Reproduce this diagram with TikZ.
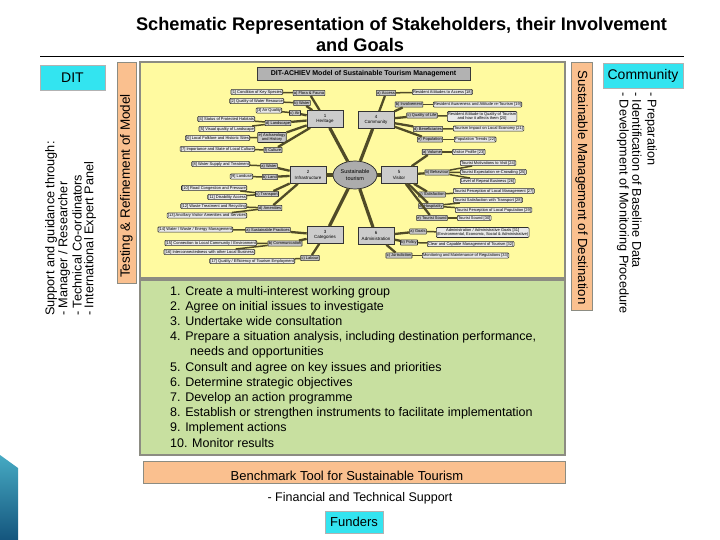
\documentclass[tikz,border=0pt]{standalone}
\usepackage{fontspec}
\setmainfont{Liberation Sans}
\usetikzlibrary{shapes.geometric}
\definecolor{cyanbox}{RGB}{51,228,240}
\definecolor{peach}{RGB}{250,192,143}
\definecolor{paneyellow}{RGB}{255,250,160}
\definecolor{panegreen}{RGB}{200,224,160}
\definecolor{linkc}{RGB}{80,75,40}
\definecolor{framec}{RGB}{140,140,130}
\begin{document}
\begin{tikzpicture}[x=1pt,y=-1pt,
  leaf/.style={draw=gray!35!black, fill=gray!18, rounded corners=1pt, line width=0.6pt, inner sep=0.8pt, font=\fontsize{4}{4.6}\selectfont, align=center},
  sub/.style={draw=gray!35!black, fill=gray!45, rounded corners=0.5pt, line width=0.6pt, inner sep=0.8pt, font=\fontsize{4}{4.6}\selectfont, align=center},
  mainbox/.style={draw=gray!40!black, fill=gray!40, line width=0.7pt, minimum width=36pt, minimum height=17pt, inner sep=1pt, font=\fontsize{4.5}{5.5}\selectfont, align=center},
  hub/.style={ellipse, draw=gray!30!black, fill=gray!65, line width=0.7pt, minimum width=44pt, minimum height=28pt, inner sep=0pt, font=\fontsize{5.5}{6.5}\selectfont, align=center},
  mlink/.style={draw=linkc, line width=3.2pt},
  slink/.style={draw=linkc, line width=2.3pt},
  llink/.style={draw=linkc, line width=1.5pt},
  cyanlabel/.style={draw=gray!60, fill=cyanbox, line width=0.8pt, inner sep=0pt, font=\fontsize{14}{16}\selectfont},
  sidetext/.style={font=\fontsize{12.7}{14}\selectfont, inner sep=0pt},
  steptext/.style={font=\fontsize{12.5}{14}\selectfont, inner sep=0pt, anchor=base west}
]
\useasboundingbox (0,0) rectangle (720,540);
\fill[white] (0,0) rectangle (720,540);

% title
\node[font=\bfseries\fontsize{18.2}{20}\selectfont, anchor=base, inner sep=0pt] (t1) at (401.5,31) {Schematic Representation of Stakeholders, their Involvement};
\node[font=\bfseries\fontsize{18.2}{20}\selectfont, anchor=base, inner sep=0pt] (t2) at (360,52) {and Goals};
\draw[line width=1pt] (40,57) -- (684,57);

% decorative corner
\shade[top color={rgb,255:red,70;green,170;blue,195}, bottom color={rgb,255:red,20;green,85;blue,125}] (0,455) -- (18,468) -- (18,540) -- (0,540) -- cycle;

% DIT
\node[cyanlabel, minimum width=65pt, minimum height=25pt] (dit) at (72.5,77.5) {DIT};
\node[sidetext, rotate=90, anchor=west] (s1) at (51,316) {Support and guidance through:};
\node[sidetext, rotate=90, anchor=west] (s2) at (64,316) {- Manager / Researcher};
\node[sidetext, rotate=90, anchor=west] (s3) at (77,316) {- Technical Co-ordinators};
\node[sidetext, rotate=90, anchor=west] (s4) at (90,316) {- International Expert Panel};

% orange side boxes
\node[draw=framec, fill=peach, line width=0.8pt, minimum width=19pt, minimum height=221pt, inner sep=0pt] (testbox) at (126.5,172.5) {};
\node[sidetext, font=\fontsize{13.5}{15}\selectfont, rotate=90] (testtext) at (126.5,186) {Testing \& Refinement of Model};
\node[draw=framec, fill=peach, line width=0.8pt, minimum width=21pt, minimum height=248pt, inner sep=0pt] (susbox) at (581.5,186) {};
\node[sidetext, font=\fontsize{13.2}{15}\selectfont, rotate=-90] (sustext) at (581.5,187.5) {Sustainable Management of Destination};

% Community
\node[cyanlabel, minimum width=80pt, minimum height=25pt] (comm) at (643,75.5) {Community};
\node[sidetext, rotate=-90, anchor=west] (r1) at (651,92) {- Preparation};
\node[sidetext, rotate=-90, anchor=west] (r2) at (637,92) {- Identification of Baseline Data};
\node[sidetext, rotate=-90, anchor=west] (r3) at (623,92) {- Development of Monitoring Procedure};

% yellow panel
\node[draw=framec, fill=paneyellow, line width=1.2pt, minimum width=425pt, minimum height=216pt, inner sep=0pt] (panel) at (352.5,170) {};
\node[draw=gray!45!black, fill=gray!60, line width=0.6pt, minimum width=213pt, minimum height=13pt, inner sep=0pt, font=\bfseries\fontsize{7}{8}\selectfont] (ptitle) at (363.5,73.5) {DIT-ACHIEV Model of Sustainable Tourism Management};

% hub and main boxes
\node[hub] (hubn) at (355,175) {Sustainable\\tourism};
\node[mainbox] (her) at (325,119) {1\\Heritage};
\node[mainbox] (com) at (376,120) {4\\Community};
\node[mainbox] (inf) at (308,175) {2\\Infrastructure};
\node[mainbox] (vis) at (399,175) {5\\Visitor};
\node[mainbox] (cat) at (325,235) {3\\Categories};
\node[mainbox] (adm) at (376,236) {6\\Administration};

% Heritage
\node[sub] (ha) at (309,93) {a) Flora \& Fauna};
\node[sub] (hb) at (302,103) {b) Water};
\node[sub] (hc) at (295,113) {c) Air};
\node[sub] (hd) at (278,123) {d) Landscape};
\node[sub] (he) at (272,137.5) {e) Archaeology\\and History};
\node[sub] (hf) at (273,150) {f) Culture};
\node[leaf, anchor=east] (l1) at (283,92) {[1] Condition of Key Species};
\node[leaf, anchor=east] (l2) at (284,101) {[2] Quality of Water Resource};
\node[leaf, anchor=east] (l3) at (282,110.5) {[3] Air Quality};
\node[leaf, anchor=east] (l4) at (255,119) {[4] Status of Protected Habitats};
\node[leaf, anchor=east] (l5) at (255,129) {[5] Visual quality of Landscape};
\node[leaf, anchor=east] (l6) at (250,138) {[6] Local Folklore and Historic Sites};
\node[leaf, anchor=east] (l7) at (255,149) {[7] Importance and State of Local Culture};

% Infrastructure
\node[sub] (ia) at (269,166) {a) Water};
\node[sub] (ib) at (270,177) {b) Land};
\node[sub] (ic) at (267,194) {c) Transport};
\node[sub] (id) at (270,208) {d) Amenities};
\node[leaf, anchor=east] (l8) at (250,164) {[8] Water Supply and Treatment};
\node[leaf, anchor=east] (l9) at (253,176.5) {[9] Landuse};
\node[leaf, anchor=east] (l10) at (247,188) {[10] Road Congestion and Pressure};
\node[leaf, anchor=east] (l11) at (247,197) {[11] Disability Access};
\node[leaf, anchor=east] (l12) at (247,206) {[12] Waste Treatment and Recycling};
\node[leaf, anchor=east] (l13) at (247,215.5) {[13] Ancillary Visitor Amenities and Services};

% Categories
\node[sub] (ca) at (268,230) {a) Sustainable Practices};
\node[sub] (cb) at (285,243.5) {b) Communication};
\node[sub] (cc) at (310,258) {c) Labour};
\node[leaf, anchor=east] (l14) at (233,229.5) {[14] Water / Waste / Energy Management};
\node[leaf, anchor=east] (l15) at (257,243) {[15] Connection to Local Community / Environment};
\node[leaf, anchor=east] (l16) at (255,252) {[16] Interconnectedness with other Local Business};
\node[leaf, anchor=east] (l17) at (295,261) {[17] Quality / Efficiency of Tourism Employment};

% Community
\node[sub] (ma) at (386,93) {a) Access};
\node[sub] (mb) at (409,104.5) {b) Involvement};
\node[sub] (mc) at (422,115.5) {c) Quality of Life};
\node[sub] (md) at (428,129) {d) Beneficiaries};
\node[sub] (me) at (430,139.5) {e) Population};
\node[leaf, anchor=west] (l18) at (412,92) {Resident Attitudes to Access [18]};
\node[leaf, anchor=west] (l19) at (433,104.5) {Resident Awareness and Attitude re-Tourism [19]};
\node[leaf, anchor=west] (l20) at (447,116.5) {Resident Attitude to Quality of Tourism\\and how it affects them [20]};
\node[leaf, anchor=west] (l21) at (453,128.5) {Tourism Impact on Local Economy [21]};
\node[leaf, anchor=west] (l22) at (454,139.5) {Population Trends [22]};

% Visitor
\node[sub] (va) at (432,152) {a) Volume};
\node[sub] (vb) at (437,172.5) {b) Behaviour};
\node[sub] (vc) at (432,194.5) {c) Satisfaction};
\node[sub] (vd) at (431,206) {d) Hospitality};
\node[sub] (ve) at (432,218) {e) Tourist Sound};
\node[leaf, anchor=west] (l23) at (452,152) {Visitor Profile [23]};
\node[leaf, anchor=west] (l24) at (460,163) {Tourist Motivations to Visit [24]};
\node[leaf, anchor=west] (l25) at (460,172) {Tourist Expectation re-Crowding [25]};
\node[leaf, anchor=west] (l26) at (460,181) {Level of Repeat Business [26]};
\node[leaf, anchor=west] (l27) at (453,191) {Tourist Perception of Local Management [27]};
\node[leaf, anchor=west] (l28) at (453,200) {Tourist Satisfaction with Transport [28]};
\node[leaf, anchor=west] (l29) at (455,210) {Tourist Perception of Local Population [29]};
\node[leaf, anchor=west] (l30) at (457,218) {Tourist Sound [30]};

% Administration
\node[sub] (aa) at (418,231.5) {a) Goals};
\node[sub] (ab) at (409,242.5) {b) Policy};
\node[sub] (ac) at (399,255.5) {c) Jurisdiction};
\node[leaf, anchor=west] (l31) at (436,232.5) {Administration / Administrative Goals [31]\\(Environmental, Economic, Social \& Administrative)};
\node[leaf, anchor=west] (l32) at (427,244) {Clear and Capable Management of Tourism [32]};
\node[leaf, anchor=west] (l33) at (422,255.5) {Monitoring and Maintenance of Regulations [33]};

% links
\foreach \m in {her,com,inf,vis,cat,adm} \draw[mlink] (hubn) -- (\m);
\foreach \s in {ha,hb,hc,hd,he,hf} \draw[slink] (her) -- (\s);
\foreach \s in {ia,ib,ic,id} \draw[slink] (inf) -- (\s);
\foreach \s in {ca,cb,cc} \draw[slink] (cat) -- (\s);
\foreach \s in {ma,mb,mc,md,me} \draw[slink] (com) -- (\s);
\foreach \s in {va,vb,vc,vd,ve} \draw[slink] (vis) -- (\s);
\foreach \s in {aa,ab,ac} \draw[slink] (adm) -- (\s);
\foreach \a/\b in {ha/l1,hb/l2,hc/l3,hd/l4,hd/l5,he/l6,hf/l7,ia/l8,ib/l9,ic/l10,ic/l11,id/l12,id/l13,ca/l14,cb/l15,cb/l16,cc/l17,ma/l18,mb/l19,mc/l20,md/l21,me/l22,va/l23,vb/l24,vb/l25,vb/l26,vc/l27,vd/l28,vd/l29,ve/l30,aa/l31,ab/l32,ac/l33}
  \draw[llink] (\a) -- (\b);

% green steps panel
\node[draw=framec, fill=panegreen, line width=1.2pt, minimum width=425pt, minimum height=175pt, inner sep=0pt] (steps) at (352.5,367.5) {};
\node[steptext] (g1) at (170,295) {1. Create a multi-interest working group};
\node[steptext] (g2) at (170,310.2) {2. Agree on initial issues to investigate};
\node[steptext] (g3) at (170,325.4) {3. Undertake wide consultation};
\node[steptext] (g4) at (170,340.6) {4. Prepare a situation analysis, including destination performance,};
\node[steptext] (g4b) at (190,355.8) {needs and opportunities};
\node[steptext] (g5) at (170,371) {5. Consult and agree on key issues and priorities};
\node[steptext] (g6) at (170,386.2) {6. Determine strategic objectives};
\node[steptext] (g7) at (170,401.4) {7. Develop an action programme};
\node[steptext] (g8) at (170,416.6) {8. Establish or strengthen instruments to facilitate implementation};
\node[steptext] (g9) at (170,431.8) {9. Implement actions};
\node[steptext] (g10) at (170,447) {10. Monitor results};

% benchmark
\node[draw=framec, fill=peach, line width=1pt, minimum width=422pt, minimum height=22pt, inner sep=0pt] (bench) at (354,472) {};
\node[sidetext, font=\fontsize{13}{15}\selectfont] (benchtext) at (347,476) {Benchmark Tool for Sustainable Tourism};
\node[sidetext, font=\fontsize{12.5}{14}\selectfont] (fin) at (360,498) {- Financial and Technical Support};
\node[cyanlabel, font=\fontsize{13}{15}\selectfont, minimum width=58pt, minimum height=22pt] (fund) at (354,522) {Funders};
\end{tikzpicture}
\end{document}
